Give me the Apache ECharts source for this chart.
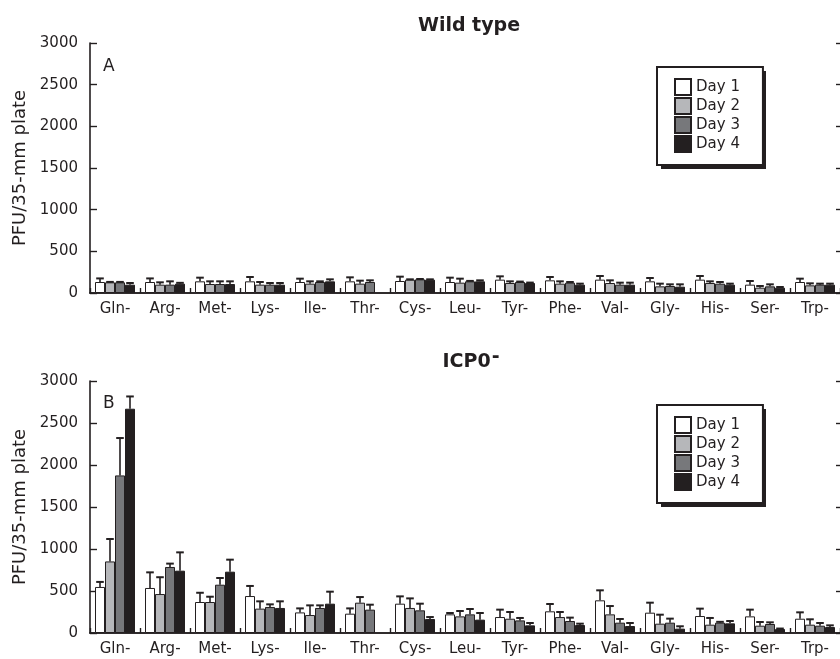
<!DOCTYPE html>
<html>
<head>
<meta charset="utf-8">
<script src="https://cdn.jsdelivr.net/npm/echarts@6/dist/echarts.min.js"></script>
<style>
html,body{margin:0;padding:0;background:#fff;}
#chart{width:840px;height:659px;}
</style>
</head>
<body>
<div id="chart"></div>
<script>
const categories = ['Gln-','Arg-','Met-','Lys-','Ile-','Thr-','Cys-','Leu-','Tyr-','Phe-','Val-','Gly-','His-','Ser-','Trp-'];
const days = ['Day 1','Day 2','Day 3','Day 4'];
const yTicks = [0, 500, 1000, 1500, 2000, 2500, 3000];

// Panel A: Wild type (mean values and upper error)
const wtDay1 = [132,132,140,140,132,140,144,132,160,152,160,140,160,100,132];
const wtDay1Err = [43,43,44,52,40,48,52,52,40,40,44,40,44,44,40];
const wtDay2 = [128,100,108,100,112,112,160,124,120,112,120,80,120,64,92];
const wtDay2Err = [5,28,32,32,28,36,4,48,20,28,32,32,20,20,24];
const wtDay3 = [128,100,108,100,132,132,164,140,132,124,100,84,112,80,100];
const wtDay3Err = [5,40,32,20,8,20,4,5,5,8,24,20,20,24,12];
const wtDay4 = [100,112,108,100,140,null,160,140,120,100,100,76,100,64,100];
const wtDay4Err = [20,10,32,20,24,null,4,12,5,12,24,28,12,8,12];

// Panel B: ICP0-
const icpDay1 = [548,536,369,440,245,230,349,222,190,258,389,242,202,198,170];
const icpDay1Err = [60,186,110,120,48,63,87,16,88,87,119,119,88,80,76];
const icpDay2 = [852,464,369,290,214,361,298,198,170,190,222,111,99,87,99];
const icpDay2Err = [267,200,63,87,115,67,114,64,80,60,99,107,80,44,64];
const icpDay3 = [1876,786,575,310,298,278,270,222,150,143,123,123,123,107,87];
const icpDay3Err = [445,40,80,31,31,59,79,64,29,40,44,48,10,20,32];
const icpDay4 = [2670,742,730,298,349,null,167,159,91,95,83,52,115,48,71];
const icpDay4Err = [146,218,143,79,143,null,23,79,28,16,36,28,28,5,20];

const colors = ['#ffffff','#b6b7ba','#77787b','#231f20'];
const ink = '#231f20';
const FONT = 'DejaVu Sans';

const panels = [
  {vals:[wtDay1,wtDay2,wtDay3,wtDay4], errs:[wtDay1Err,wtDay2Err,wtDay3Err,wtDay4Err]},
  {vals:[icpDay1,icpDay2,icpDay3,icpDay4], errs:[icpDay1Err,icpDay2Err,icpDay3Err,icpDay4Err]}
];

const BAR_FRAC = 0.8;
function makeErrRender(i){
  return function(params, api){
    const x = api.value(0), v = api.value(1), e = api.value(2);
    const p0 = api.coord([x, v]);
    const p1 = api.coord([x, v + e]);
    const band = api.size([1, 0])[0];
    const bw = band * BAR_FRAC / 4;
    const dx = -band * BAR_FRAC / 2 + (i + 0.5) * bw;
    const cx = p0[0] + dx;
    const hw = bw * 0.38;
    return {
      type: 'group',
      children: [
        {type:'line', shape:{x1:cx, y1:p0[1], x2:cx, y2:p1[1]}, style:{stroke:ink, lineWidth:1.6}},
        {type:'line', shape:{x1:cx-hw, y1:p1[1], x2:cx+hw, y2:p1[1]}, style:{stroke:ink, lineWidth:2}}
      ]
    };
  };
}

const series = [];
panels.forEach((pan, p) => {
  for (let i = 0; i < 4; i++) {
    series.push({
      type:'bar', name: days[i], xAxisIndex: p*2, yAxisIndex: p*2,
      data: pan.vals[i], barGap:'0%', barCategoryGap:'20%',
      itemStyle:{color: colors[i], borderColor: ink, borderWidth: 1},
      emphasis:{disabled:true}, animation:false
    });
  }
  for (let i = 0; i < 4; i++) {
    const d = [];
    pan.vals[i].forEach((v, k) => { if (v != null) d.push([k, v, pan.errs[i][k]]); });
    series.push({
      type:'custom', name:'err'+p+i, xAxisIndex: p*2, yAxisIndex: p*2,
      data: d, encode:{x:0, y:1}, renderItem: makeErrRender(i), z: 5, animation:false
    });
  }
});

const grids = [
  {left:90, right:0, top:43, height:250},
  {left:90, right:0, top:381, height:252}
];

const xAxis = [], yAxis = [];
[0,1].forEach(g => {
  xAxis.push({
    type:'category', gridIndex:g, data:categories, position:'bottom',
    axisLine:{show:true, lineStyle:{color:ink, width:1.6}},
    axisTick:{show:true, inside:true, length:5, interval:0, alignWithLabel:false, lineStyle:{color:ink, width:1.4}},
    axisLabel:{interval:0, margin:9, color:ink, fontFamily:FONT, fontSize:15},
    splitLine:{show:false}
  });
  xAxis.push({
    type:'category', gridIndex:g, data:categories, position:'top',
    axisLine:{show:true, lineStyle:{color:ink, width:1.6}},
    axisTick:{show:false}, axisLabel:{show:false}, splitLine:{show:false}
  });
  yAxis.push({
    type:'value', gridIndex:g, min:yTicks[0], max:yTicks[yTicks.length-1], interval:500, position:'left',
    name:'PFU/35-mm plate', nameLocation:'middle', nameGap:58,
    nameTextStyle:{color:ink, fontFamily:FONT, fontSize:18},
    axisLine:{show:true, lineStyle:{color:ink, width:1.6}},
    axisTick:{show:true, inside:true, length:7, lineStyle:{color:ink, width:1.4}},
    axisLabel:{margin:12, color:ink, fontFamily:FONT, fontSize:15, formatter: v => String(v)},
    splitLine:{show:false}
  });
  yAxis.push({
    type:'value', gridIndex:g, min:yTicks[0], max:yTicks[yTicks.length-1], interval:500, position:'right',
    axisLine:{show:false},
    axisTick:{show:true, inside:true, length:4, lineStyle:{color:ink, width:1.4}},
    axisLabel:{show:false}, splitLine:{show:false}
  });
});

const LEG_LEFT = 657, LEG_W = 105, LEG_H = 98;
function legendFor(top){
  return {
    data: days, orient:'vertical', left:LEG_LEFT, top: top,
    icon:'rect', itemWidth:16, itemHeight:16, itemGap:1,
    padding:[11, 23, 12, 17],
    backgroundColor:'#ffffff', borderColor:ink, borderWidth:2,
    textStyle:{color:ink, fontFamily:FONT, fontSize:15},
    selectedMode:false, z: 10
  };
}
function legendShadow(top){
  return {type:'rect', z: 5, shape:{x:LEG_LEFT+4, y:top+4, width:LEG_W, height:LEG_H}, style:{fill:ink}};
}

const option = {
  animation:false,
  backgroundColor:'#ffffff',
  title:[
    {text:'Wild type', left:464, top:12, textAlign:'center',
     textStyle:{color:ink, fontFamily:FONT, fontSize:19, fontWeight:'bold'}},
    {text:'ICP0{s|-}', left:466, top:346, textAlign:'center',
     textStyle:{color:ink, fontFamily:FONT, fontSize:19, fontWeight:'bold', lineHeight:22,
       rich:{s:{fontFamily:FONT, fontSize:19, fontWeight:'bold', color:ink, lineHeight:22, padding:[0,0,10,1]}}}}
  ],
  legend:[legendFor(67), legendFor(405)],
  grid: grids,
  xAxis: xAxis,
  yAxis: yAxis,
  graphic:[
    legendShadow(67),
    legendShadow(405),
    {type:'text', left:103, top:58, style:{text:'A', fill:ink, font:'17px "DejaVu Sans"'}},
    {type:'text', left:103, top:395, style:{text:'B', fill:ink, font:'17px "DejaVu Sans"'}}
  ],
  series: series
};

const chart = echarts.init(document.getElementById('chart'), null, {renderer:'canvas'});
chart.setOption(option);
</script>
</body>
</html>
